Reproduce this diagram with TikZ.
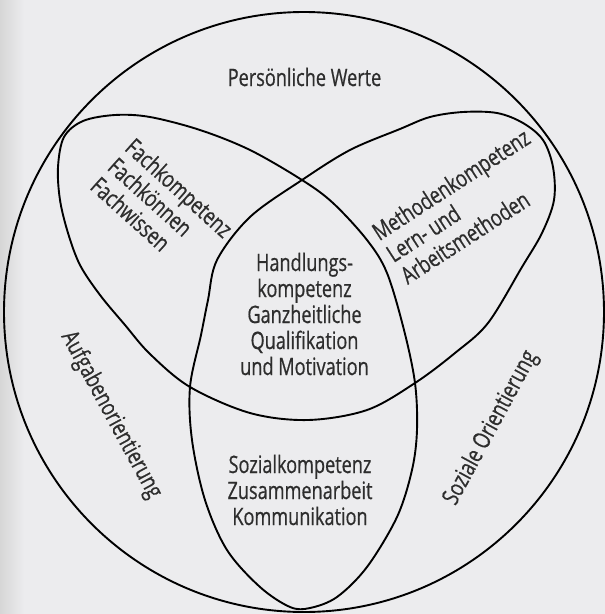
\documentclass[tikz,border=0pt]{standalone}
\usepackage{fontspec}
\setmainfont{Open Sans}[FakeStretch=0.755, FakeBold=0.6]
\definecolor{ink}{RGB}{45,45,45}
\definecolor{paper}{RGB}{236,236,238}
\begin{document}
\begin{tikzpicture}[x=1pt,y=-1pt,
  ring/.style={line width=1.9pt, black},
  txt/.style={text=ink, inner sep=0pt, font=\fontsize{24}{26}\selectfont},
]
% paper and the shadow along its left edge
\fill[paper] (0,0) rectangle (605,614);
\useasboundingbox (0,0) rectangle (605,614);
\shade[left color=black!16, right color=paper] (0,0) rectangle (24,614);

% outer circle
\draw[ring] (304,312) circle[radius=300pt];

% the three interlaced loops, drawn as one closed curve
\draw[ring] plot[smooth cycle, tension=0.55] coordinates {
  (302,180) (250,150) (200,130) (150,117) (115,115) (83,121) (64,137)
  (58,167) (60,200) (68,233) (80,265) (100,295) (125,325) (150,354)
  (190,387) (250,413) (308,420) (367,410) (415,383) (455,353) (488,323)
  (522,267) (542,233) (554,200) (553,167) (543,140) (523,123) (497,113)
  (463,112) (430,117) (400,129) (350,150)
  (302,180) (250,217) (217,260) (208,300) (201,335) (190,387)
  (192,440) (205,500) (227,550) (260,587) (290,607) (310,608) (337,597)
  (367,567) (397,517) (412,470) (417,430) (415,383) (404,330) (387,273)
  (367,240) (333,203)
};

% labels
\node[txt] (werte) at (304.5,77) {Persönliche Werte};
\node[txt, align=center] (handlung) at (304.5,314)
  {Handlungs-\\kompetenz\\Ganzheitliche\\Qualifikation\\und Motivation};
\node[txt, align=center] (sozial) at (300,490)
  {Sozialkompetenz\\Zusammenarbeit\\Kommunikation};
\node[txt, align=left, rotate=-42] (fach) at (162,207)
  {Fachkompetenz\\Fachkönnen\\Fachwissen};
\node[txt, align=left, rotate=33] (methode) at (465,206)
  {Methodenkompetenz\\Lern- und\\Arbeitsmethoden};
\node[txt, rotate=-61.5] (aufgabe) at (111,415) {Aufgabenorientierung};
\node[txt, rotate=61.5] (sozor) at (491,428) {Soziale Orientierung};
\end{tikzpicture}
\end{document}
